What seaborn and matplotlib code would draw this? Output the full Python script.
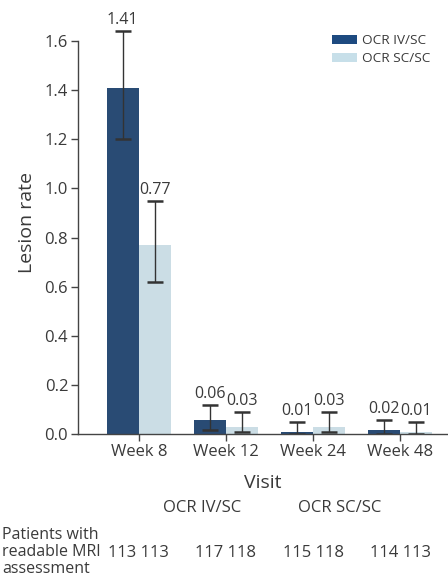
import matplotlib
matplotlib.use("Agg")
import matplotlib.pyplot as plt
import seaborn as sns
import pandas as pd
from matplotlib.patches import Patch

visits = ["Week 8", "Week 12", "Week 24", "Week 48"]
groups = ["OCR IV/SC", "OCR SC/SC"]
rate_iv = [1.41, 0.06, 0.01, 0.02]
rate_sc = [0.77, 0.03, 0.03, 0.01]
low_iv = [1.20, 0.02, 0.00, 0.00]
high_iv = [1.64, 0.12, 0.05, 0.06]
low_sc = [0.62, 0.01, 0.01, 0.00]
high_sc = [0.95, 0.09, 0.09, 0.05]
n_iv = [113, 117, 115, 114]
n_sc = [113, 118, 118, 113]
yticks = [0.0, 0.2, 0.4, 0.6, 0.8, 1.0, 1.2, 1.4, 1.6]

dark = "#1d4a80"
light = "#c7dfe9"
txt = "#3a3a3a"

sns.set_theme(style="white")
plt.rcParams["font.family"] = ["Open Sans", "DejaVu Sans"]

df = pd.DataFrame({
    "Visit": visits * 2,
    "Group": [groups[0]] * 4 + [groups[1]] * 4,
    "Rate": rate_iv + rate_sc,
})

fig = plt.figure(figsize=(4.48, 5.77), dpi=100)
ax = fig.add_axes([0.174, 0.247, 0.826, 0.736])

sns.barplot(data=df, x="Visit", y="Rate", hue="Group", order=visits,
            hue_order=groups, palette=[dark, light], width=0.74,
            errorbar=None, legend=False, ax=ax, linewidth=0)

ax.set_xlim(-0.70, 3.55)
ax.set_ylim(0, 1.726)

# error bars and value labels, placed at the centre of each drawn bar
for gi, (rates, lows, highs) in enumerate([(rate_iv, low_iv, high_iv),
                                          (rate_sc, low_sc, high_sc)]):
    cont = ax.containers[gi]
    for bar, r, lo, hi in zip(cont, rates, lows, highs):
        xc = bar.get_x() + bar.get_width() / 2
        ax.errorbar(xc, r, yerr=[[r - lo], [hi - r]], fmt="none",
                    ecolor="#333333", elinewidth=1.0, capsize=5.5, capthick=1.8)
        ax.text(xc, hi + 0.012, f"{r:.2f}", ha="center", va="bottom",
                fontsize=11.5, color=txt)

ax.set_yticks(yticks)
ax.set_yticklabels([f"{v:.1f}" for v in yticks], fontsize=12, color=txt)
ax.tick_params(axis="x", labelsize=12, labelcolor=txt, length=5,
               bottom=True, color="#444444", width=1, pad=2)
ax.tick_params(axis="y", length=5, left=True, color="#444444", width=1, pad=2)
for s in ["top", "right"]:
    ax.spines[s].set_visible(False)
for s in ["left", "bottom"]:
    ax.spines[s].set_color("#444444")
    ax.spines[s].set_linewidth(1)
ax.spines["left"].set_bounds(0, 1.6)

ax.set_xlabel("Visit", fontsize=14, color=txt, labelpad=10)
ax.set_ylabel("Lesion rate", fontsize=14, color=txt, labelpad=6)

handles = [Patch(facecolor=dark, edgecolor="none", label=groups[0]),
           Patch(facecolor=light, edgecolor="none", label=groups[1])]
ax.legend(handles=handles, loc="upper left",
          bbox_to_anchor=(331 / 448, 1 - 33 / 577),
          bbox_transform=fig.transFigure,
          frameon=False, fontsize=9.7, handlelength=1.8, handleheight=0.7,
          handletextpad=0.4, labelspacing=0.35, labelcolor=txt,
          borderaxespad=0, borderpad=0.1)

# patient counts beneath the axis
fig.text(202 / 448, 1 - 508 / 577, groups[0], ha="center", va="center",
         fontsize=12, color=txt)
fig.text(340 / 448, 1 - 508 / 577, groups[1], ha="center", va="center",
         fontsize=12, color=txt)
fig.text(0.005, 1 - 552 / 577, "Patients with\nreadable MRI\nassessment",
         ha="left", va="center", fontsize=11.5, color=txt, linespacing=1.08)
for i, (a, b) in enumerate(zip(n_iv, n_sc)):
    xpix = ax.transData.transform((i, 0))[0]
    fig.text(xpix / fig.bbox.width, 1 - 553 / 577, f"{a} {b}",
             ha="center", va="center", fontsize=12, color=txt)

fig.savefig("out.png", dpi=100)
